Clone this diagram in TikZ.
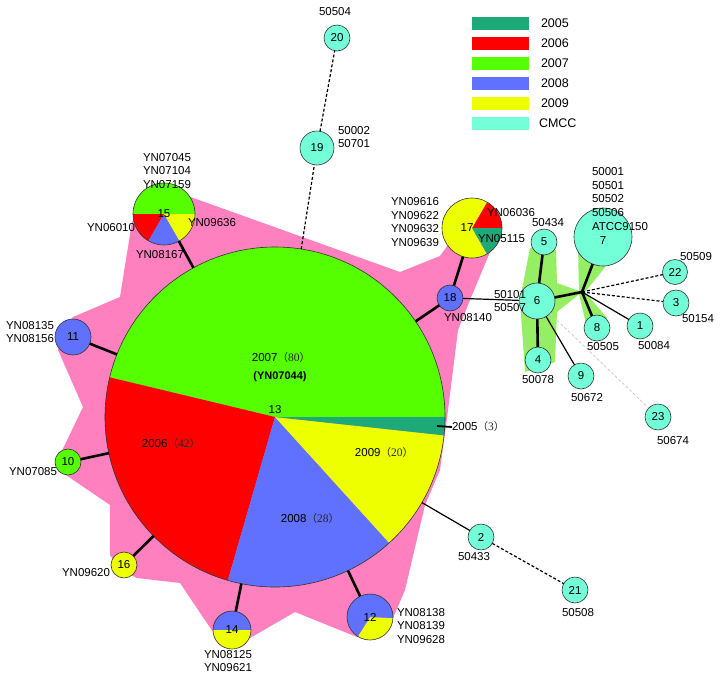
\documentclass[tikz,border=0pt]{standalone}
\usepackage{fontspec}
\setmainfont{Liberation Sans}
\newfontfamily\cjk{Noto Sans CJK SC}
\newfontfamily\serifnum{Liberation Serif}
\definecolor{c2005}{RGB}{30,170,120}
\definecolor{c2006}{RGB}{255,0,0}
\definecolor{c2007}{RGB}{85,255,0}
\definecolor{c2008}{RGB}{96,112,255}
\definecolor{c2009}{RGB}{238,255,0}
\definecolor{cmcc}{RGB}{115,255,215}
\definecolor{hullpink}{RGB}{255,128,190}
\definecolor{hullgreen}{RGB}{150,238,100}
\newcommand\mypie[5]{\fill[#5] (#1) -- ++({-(#2)}:#4) arc[start angle={-(#2)}, end angle={-(#3)}, radius=#4] -- cycle;}
\newcommand\pn[1]{{\color{black!85}\cjk\fontsize{10.5}{12}\selectfont （}{\color{black!85}\serifnum\fontsize{11.5}{12}\selectfont #1}{\color{black!85}\cjk\fontsize{10.5}{12}\selectfont ）}}
\begin{document}
\begin{tikzpicture}[x=1pt,y=-1pt,
  font=\fontsize{11.5}{13.8}\selectfont,
  every node/.style={inner sep=0pt, outer sep=0pt},
  cnode/.style={circle, draw=black!80, line width=0.6pt, fill=cmcc, minimum size=26pt, inner sep=0pt},
  pnode/.style={circle, draw=black!80, line width=0.6pt, inner sep=0pt},
  thickedge/.style={line width=2.6pt},
  thinedge/.style={line width=1.2pt},
  dashedge/.style={line width=1.2pt, dash pattern=on 3pt off 2pt},
  swatch/.style={minimum width=57pt, minimum height=13pt, inner sep=0pt},
  legtext/.style={anchor=west, font=\fontsize{12.5}{14}\selectfont}
]
\useasboundingbox (0,0) rectangle (720,678);
\fill[white] (0,0) rectangle (720,678);

% pink hull
\fill[hullpink] (150,200) -- (185,195) -- (400,272) -- (440,256) -- (460,228) -- (495,240)
  -- (470,300) -- (458,330) -- (447,418) -- (440,470) -- (425,505) -- (405,590) -- (390,625)
  -- (357,637) -- (295,612) -- (250,638) -- (232,640) -- (213,632) -- (180,583) -- (137,578)
  -- (120,570) -- (110,555) -- (110,505) -- (63,473) -- (60,455) -- (83,407) -- (58,350)
  -- (65,325) -- (73,317) -- (120,297) -- (132,222) -- cycle;

% green hulls
\fill[hullgreen] (530,248) -- (556,250) -- (557,283) -- (582,292) -- (557,312) -- (555,362)
  -- (525,372) -- (520,300) -- cycle;
\fill[hullgreen] (578,245) -- (615,255) -- (585,292) -- (607,318) -- (586,324) -- (579,294) -- cycle;

% main pie 13
\mypie{275,417}{0}{166.5}{170}{c2007}
\mypie{275,417}{166.5}{253.9}{170}{c2006}
\mypie{275,417}{253.9}{312.2}{170}{c2008}
\mypie{275,417}{312.2}{353.8}{170}{c2009}
\mypie{275,417}{353.8}{360}{170}{c2005}
\node[pnode, minimum size=340pt] (n13) at (275,417) {};

% pie 15
\mypie{164,214}{0}{180}{31}{c2007}
\mypie{164,214}{180}{240}{31}{c2006}
\mypie{164,214}{240}{300}{31}{c2008}
\mypie{164,214}{300}{360}{31}{c2009}
\node[pnode, minimum size=62pt] (n15) at (164,214) {15};

% pie 17
\mypie{472,228}{0}{60}{30}{c2006}
\mypie{472,228}{60}{300}{30}{c2009}
\mypie{472,228}{300}{360}{30}{c2005}
\node[pnode, minimum size=60pt] (n17) at (472,228) {\hspace*{-10pt}17};

% pie 14
\mypie{232,630}{0}{180}{19}{c2008}
\mypie{232,630}{180}{360}{19}{c2009}
\node[pnode, minimum size=38pt] (n14) at (232,630) {14};

% pie 12
\mypie{370,617}{238}{357.5}{23}{c2009}
\mypie{370,617}{357.5}{598}{23}{c2008}
\node[pnode, minimum size=46pt] (n12) at (370,617) {12};

% single coloured nodes
\node[pnode, fill=c2008, minimum size=36pt] (n11) at (73,337) {11};
\node[pnode, fill=c2007, minimum size=26pt] (n10) at (68,462) {10};
\node[pnode, fill=c2009, minimum size=26pt] (n16) at (124,565) {16};
\node[pnode, fill=c2008, minimum size=26pt] (n18) at (450,298) {18};

% CMCC nodes
\node[cnode] (n20) at (337,38) {20};
\node[cnode, minimum size=34pt] (n19) at (317,148) {19};
\node[cnode] (n5) at (544,242) {5};
\node[cnode, minimum size=36pt] (n6) at (537,301) {6};
\node[cnode, minimum size=58pt] (n7) at (603,237) {};
\node (t7) at (603,241) {7};
\node[cnode, minimum size=25pt] (n22) at (675,272) {22};
\node[cnode] (n3) at (676,303) {3};
\node[cnode] (n8) at (597,328) {8};
\node[cnode] (n1) at (640,326) {1};
\node[cnode] (n4) at (538,360) {4};
\node[cnode] (n9) at (581,376) {9};
\node[cnode] (n23) at (658,417) {23};
\node[cnode] (n2) at (481,537) {2};
\node[cnode] (n21) at (575,590) {21};
\coordinate (hub) at (582,292);

% edges
\draw[thickedge] (n13) -- (n15);
\draw[thickedge] (n13) -- (n11);
\draw[thickedge] (n13) -- (n10);
\draw[thickedge] (n13) -- (n16);
\draw[thickedge] (n13) -- (n14);
\draw[thickedge] (n13) -- (n12);
\draw[thickedge] (n13) -- (n18);
\draw[thickedge] (n18) -- (n17);
\draw[thinedge] (n13) -- (n2);
\draw[thinedge] (n18) -- (n6);
\draw[dashedge] (n2) -- (n21);
\draw[dashedge] (n13) -- (n19);
\draw[dashedge] (n19) -- (n20);
\draw[thickedge] (n6) -- (n5);
\draw[thickedge] (n6) -- (n4);
\draw[thinedge] (n6) -- (n9);
\draw[thickedge] (n6) -- (hub);
\draw[thickedge] (hub) -- (n7);
\draw[thickedge] (hub) -- (n8);
\draw[thinedge] (hub) -- (n1);
\draw[dashedge] (hub) -- (n22);
\draw[dashedge] (hub) -- (n3);
\draw[line width=0.8pt, black!20, dash pattern=on 3pt off 2pt] (n6) -- (n23);

% main pie labels
\node (m2007) at (281,358) {2007\pn{80}};
\node[font=\bfseries\fontsize{11}{13}\selectfont] (m07044) at (280,377) {(YN07044)};
\node (m13) at (275,410) {13};
\node (m2006) at (171,444) {2006\pn{42}};
\node (m2008) at (310,519) {2008\pn{28}};
\node (m2009) at (384,453) {2009\pn{20}};
\coordinate (t2005) at (437,426);
\node[anchor=west] (m2005) at (452,427) {2005\pn{3}};
\draw[line width=1.8pt] (t2005) -- (m2005.west);

% strain labels
\node[anchor=west, align=left] (l15a) at (143,171) {YN07045\\YN07104\\YN07159};
\node[anchor=east] (l15b) at (135,228) {YN06010};
\node[anchor=west] (l15c) at (188,223) {YN09636};
\node (l15d) at (160,255) {YN08167};
\node[anchor=east, align=right] (l17a) at (439,222) {YN09616\\YN09622\\YN09632\\YN09639};
\node[anchor=west] (l17b) at (487,213) {YN06036};
\node[anchor=west] (l17c) at (478,239) {YN05115};
\node (l18) at (468,318) {YN08140};
\node[align=center] (l6) at (510,301) {50101\\50507};
\node[anchor=east, align=right] (l11) at (54,332) {YN08135\\YN08156};
\node[anchor=east] (l10) at (57,472) {YN07085};
\node[anchor=east] (l16) at (110,573) {YN09620};
\node[align=center] (l14) at (228,661) {YN08125\\YN09621};
\node[anchor=west, align=left] (l12) at (397,626) {YN08138\\YN08139\\YN09628};
\node (l20) at (335,12) {50504};
\node[anchor=west, align=left] (l19) at (338,137) {50002\\50701};
\node (l5) at (548,223) {50434};
\node[anchor=west, align=left] (l7) at (592,199) {50001\\50501\\50502\\50506\\ATCC9150};
\node (l22) at (696,257) {50509};
\node (l3) at (698,319) {50154};
\node (l8) at (603,347) {50505};
\node (l1) at (654,346) {50084};
\node (l4) at (538,380) {50078};
\node (l9) at (587,398) {50672};
\node (l23) at (673,441) {50674};
\node (l2) at (474,557) {50433};
\node (l21) at (578,613) {50508};

% legend
\node[swatch, fill=c2005] (s1) at (500.5,23) {};
\node[swatch, fill=c2006] (s2) at (500.5,43) {};
\node[swatch, fill=c2007] (s3) at (500.5,63) {};
\node[swatch, fill=c2008] (s4) at (500.5,83) {};
\node[swatch, fill=c2009] (s5) at (500.5,103) {};
\node[swatch, fill=cmcc] (s6) at (500.5,123) {};
\node[legtext] (g1) at (541,23) {2005};
\node[legtext] (g2) at (541,43) {2006};
\node[legtext] (g3) at (541,63) {2007};
\node[legtext] (g4) at (541,83) {2008};
\node[legtext] (g5) at (541,103) {2009};
\node[legtext] (g6) at (539,123) {CMCC};
\end{tikzpicture}
\end{document}
